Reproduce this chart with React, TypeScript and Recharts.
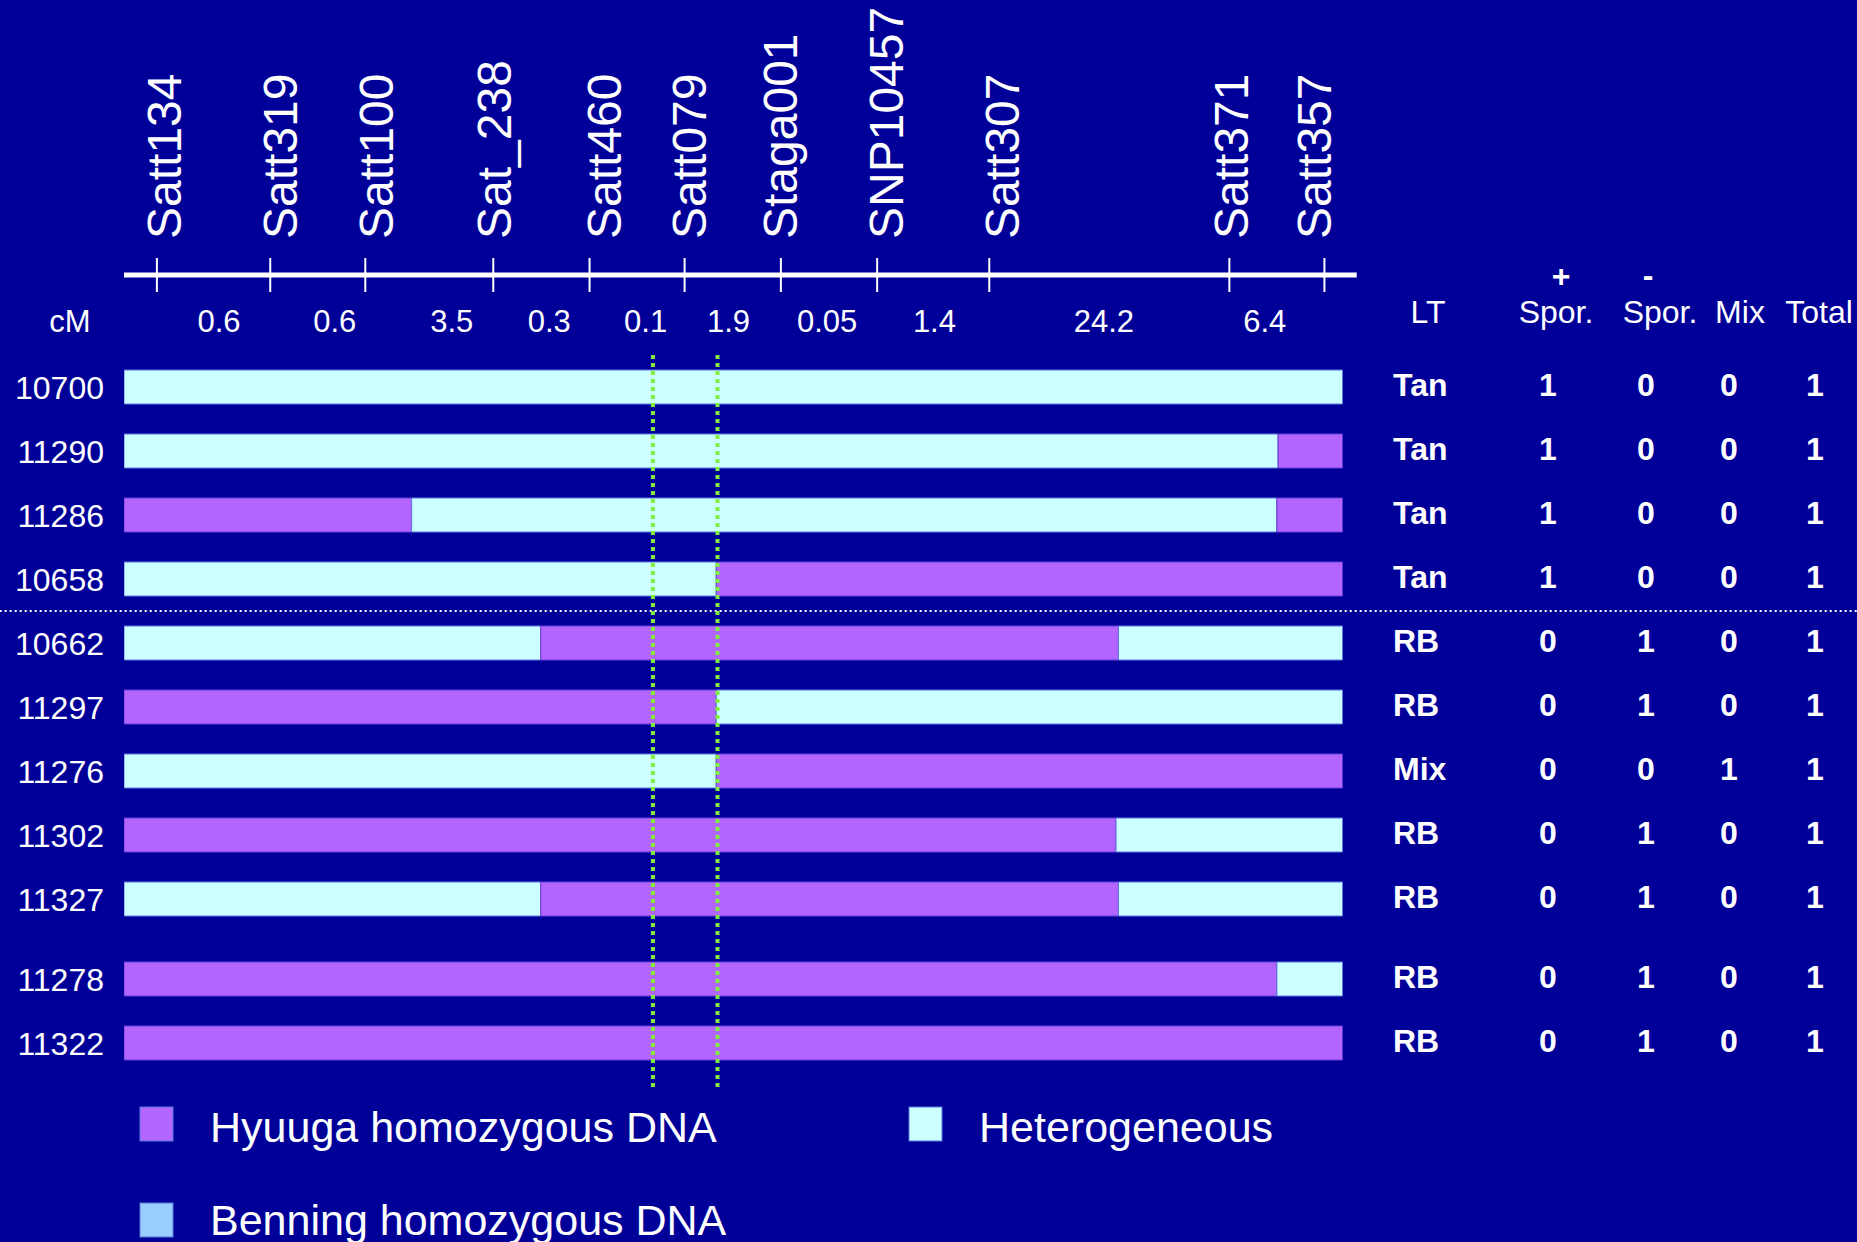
import React from "react";
import { BarChart, Bar, XAxis, YAxis, Cell, ReferenceLine } from "recharts";

const BG = "#000099";
const HYUUGA = "#B266FF";
const HETERO = "#CCFFFF";
const BENNING = "#99CCFF";
const FLANK = "#80F040";
const FONT = "'Liberation Sans', Arial, sans-serif";

// markers along the linkage map (schematic axis units, 0-100 = bar length)
const markers = ["Satt134", "Satt319", "Satt100", "Sat_238", "Satt460", "Satt079", "Staga001", "SNP10457", "Satt307", "Satt371", "Satt357"];
const markerPos = [2.7, 12.0, 19.8, 30.3, 38.2, 46.0, 53.9, 61.8, 71.0, 90.7, 98.5];
const labelNudge = [24, 27, 28, 18, 31, 21, 16, 26, 30, 19, 7];

// cM distances between markers
const cmValues = ["0.6", "0.6", "3.5", "0.3", "0.1", "1.9", "0.05", "1.4", "24.2", "6.4"];
const cmLabelPos = [7.8, 17.3, 26.9, 34.9, 42.8, 49.6, 57.7, 66.5, 80.4, 93.6];

// flanking interval (green dotted lines)
const flankPos = [43.4, 48.7];

// lines and their genotype segments
const lines = ["10700", "11290", "11286", "10658", "10662", "11297", "11276", "11302", "11327", "11278", "11322"];
const rowSlot = [0, 1, 2, 3, 4, 5, 6, 7, 8, 9.25, 10.25];
const segEnd = [
  [100],
  [94.7, 100],
  [23.6, 94.6, 100],
  [48.6, 100],
  [34.2, 81.6, 100],
  [48.6, 100],
  [48.6, 100],
  [81.4, 100],
  [34.2, 81.6, 100],
  [94.6, 100],
  [100],
];
const segType = [
  ["het"],
  ["het", "hyu"],
  ["hyu", "het", "hyu"],
  ["het", "hyu"],
  ["het", "hyu", "het"],
  ["hyu", "het"],
  ["het", "hyu"],
  ["hyu", "het"],
  ["het", "hyu", "het"],
  ["hyu", "het"],
  ["hyu"],
];

// phenotype table
const lt = ["Tan", "Tan", "Tan", "Tan", "RB", "RB", "Mix", "RB", "RB", "RB", "RB"];
const sporPlus = [1, 1, 1, 1, 0, 0, 0, 0, 0, 0, 0];
const sporMinus = [0, 0, 0, 0, 1, 1, 0, 1, 1, 1, 1];
const mixCount = [0, 0, 0, 0, 0, 0, 1, 0, 0, 0, 0];
const total = [1, 1, 1, 1, 1, 1, 1, 1, 1, 1, 1];

const legendItems = [
  { name: "Hyuuga homozygous DNA", color: HYUUGA },
  { name: "Heterogeneous", color: HETERO },
  { name: "Benning homozygous DNA", color: BENNING },
];

const rows = lines.map((line, i) => {
  const row: any = { line, slot: rowSlot[i] };
  let prev = 0;
  segEnd[i].forEach((end, k) => {
    row[`s${k}`] = +(end - prev).toFixed(2);
    prev = end;
  });
  return row;
});

const fillOf = (t?: string) => (t === "hyu" ? HYUUGA : HETERO);
const strokeOf = (t?: string) => (t === "hyu" ? "#6a3ad8" : "#5a78dc");

function TopTick(props: any) {
  const { x, y, payload } = props;
  const mi = markerPos.indexOf(payload.value);
  if (mi >= 0) {
    return (
      <g>
        <line x1={x} x2={x} y1={y - 97} y2={y - 63} stroke="#fff" strokeWidth={2} />
        <text
          transform={`translate(${x + labelNudge[mi]},${y - 116}) rotate(-90)`}
          fill="#fff"
          fontSize={48}
          fontFamily={FONT}
        >
          {markers[mi]}
        </text>
      </g>
    );
  }
  const ci = cmLabelPos.indexOf(payload.value);
  if (ci < 0) return null;
  return (
    <text x={x} y={y - 23} textAnchor="middle" fill="#fff" fontSize={31} fontFamily={FONT}>
      {cmValues[ci]}
    </text>
  );
}

// row label on the left plus the phenotype table on the right of each bar
function RowTick(props: any) {
  const { x, y, payload } = props;
  const i = rowSlot.indexOf(payload.value);
  if (i < 0) return null;
  const cols = [sporPlus[i], sporMinus[i], mixCount[i], total[i]];
  const colX = [1548, 1646, 1729, 1815];
  return (
    <g fontFamily={FONT} fill="#fff">
      <text x={x} y={y + 12} textAnchor="end" fontSize={32}>
        {lines[i]}
      </text>
      <g fontSize={32} fontWeight="bold">
        <text x={1393} y={y + 9}>{lt[i]}</text>
        {cols.map((v, k) => (
          <text key={k} x={colX[k]} y={y + 9} textAnchor="middle">
            {v}
          </text>
        ))}
      </g>
    </g>
  );
}

export default function App() {
  const yDomain: [number, number] = [-0.5, 10.9375];
  return (
    <div style={{ position: "absolute", left: 0, top: 0, width: 1857, height: 1242, background: BG, overflow: "hidden" }}>
      <BarChart
        width={1857}
        height={1242}
        data={rows}
        layout="vertical"
        margin={{ top: 354, right: 514.3, bottom: 155, left: 0 }}
      >
        <XAxis type="number" domain={[0, 100]} allowDataOverflow hide />
        <XAxis
          xAxisId="top"
          orientation="top"
          type="number"
          domain={[0, 100]}
          allowDataOverflow
          height={1}
          ticks={[...markerPos, ...cmLabelPos]}
          interval={0}
          axisLine={false}
          tickLine={false}
          tickSize={0}
          tickMargin={0}
          tick={<TopTick />}
        />
        <YAxis
          type="number"
          dataKey="slot"
          domain={yDomain}
          allowDataOverflow
          ticks={rowSlot}
          interval={0}
          width={124}
          axisLine={false}
          tickLine={false}
          tickSize={0}
          tickMargin={20}
          tick={<RowTick />}
        />
        {[0, 1, 2].map((k) => (
          <Bar key={k} dataKey={`s${k}`} stackId="g" barSize={34} isAnimationActive={false}>
            {rows.map((_, i) => (
              <Cell key={i} fill={fillOf(segType[i][k])} stroke={strokeOf(segType[i][k])} strokeWidth={1} />
            ))}
          </Bar>
        ))}
        <ReferenceLine
          segment={[{ x: 0, y: -1.75 }, { x: 101.15, y: -1.75 }]}
          stroke="#fff"
          strokeWidth={5}
          ifOverflow="visible"
        />
        <ReferenceLine
          segment={[{ x: -10.2, y: 3.5 }, { x: 142.3, y: 3.5 }]}
          stroke="#fff"
          strokeWidth={2}
          strokeDasharray="2 3"
          ifOverflow="visible"
        />
        {flankPos.map((p) => (
          <ReferenceLine key={p} x={p} stroke={FLANK} strokeWidth={4} strokeDasharray="4 4" />
        ))}
      </BarChart>
      <svg
        width={1857}
        height={1242}
        style={{ position: "absolute", left: 0, top: 0, pointerEvents: "none" }}
        fontFamily={FONT}
      >
        <text x={70} y={332} textAnchor="middle" fill="#fff" fontSize={31}>cM</text>
        <g fill="#fff" fontSize={32} textAnchor="middle">
          <text x={1428} y={323}>LT</text>
          <text x={1556} y={323}>Spor.</text>
          <text x={1660} y={323}>Spor.</text>
          <text x={1740} y={323}>Mix</text>
          <text x={1819} y={323}>Total</text>
          <text x={1561} y={287} fontWeight="bold">+</text>
          <text x={1648} y={286} fontWeight="bold">-</text>
        </g>
        {legendItems.map((it, i) => {
          const lx = i === 1 ? 909 : 140;
          const ly = i === 2 ? 1203 : 1107;
          return (
            <g key={it.name}>
              <rect x={lx} y={ly} width={33} height={34} fill={it.color} stroke="#5a78dc" strokeWidth={1} />
              <text x={lx + 70} y={ly + (i === 2 ? 32 : 35)} fill="#fff" fontSize={43}>
                {it.name}
              </text>
            </g>
          );
        })}
      </svg>
    </div>
  );
}
